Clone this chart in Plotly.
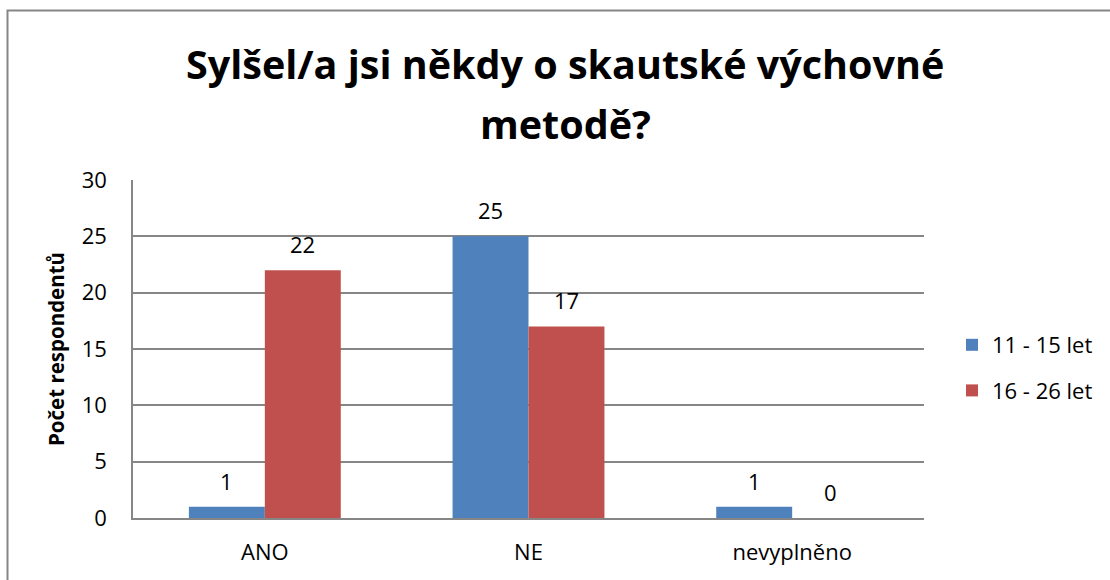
import plotly.graph_objects as go

categories = ["ANO", "NE", "nevyplněno"]
series_names = ["11 - 15 let", "16 - 26 let"]
values_11_15 = [1, 25, 1]
values_16_26 = [22, 17, 0]
colors = ["#4F81BD", "#C0504D"]
title_lines = ["Sylšel/a jsi někdy o skautské výchovné", "metodě?"]
y_title = "Počet respondentů"
y_ticks = [0, 5, 10, 15, 20, 25, 30]

FONT = "'Open Sans', Lato, sans-serif"

L, R, T, B = 133, 186, 180, 62
W, H = 1110, 580
pw, ph = W - L - R, H - T - B
BAR_PX = 76  # pixel width of one bar (for label offset)

fig = go.Figure()
for name, vals, col in zip(series_names, [values_11_15, values_16_26], colors):
    fig.add_trace(go.Bar(
        x=categories, y=vals, name=name, marker=dict(color=col, line=dict(width=0)),
        legendgroup=name,
    ))

annotations = []
for i, vals in enumerate([values_11_15, values_16_26]):
    for cat, v in zip(categories, vals):
        annotations.append(dict(
            x=cat, y=v, xref="x", yref="y", text=str(v), showarrow=False,
            xshift=(i - 0.5) * BAR_PX, yshift=26, yanchor="middle", xanchor="center",
            font=dict(size=22, family=FONT, color="#000000"),
        ))

title_centers_px = [64, 124]
for line, cy in zip(title_lines, title_centers_px):
    annotations.append(dict(
        x=(565 - L) / pw, y=((H - B) - cy) / ph, xref="paper", yref="paper",
        text=line, showarrow=False, xanchor="center", yanchor="middle",
        font=dict(size=39.5, family=FONT, color="#000000", weight="bold"),
    ))

fig.update_layout(
    width=W, height=H,
    margin=dict(l=L, r=R, t=T, b=B),
    paper_bgcolor="white", plot_bgcolor="white",
    barmode="group", bargap=0.424, bargroupgap=0,
    font=dict(family=FONT, color="#000000"),
    annotations=annotations,
    legend=dict(x=(952 - L) / pw, xanchor="left", y=(518 - 324) / ph, yanchor="top",
                font=dict(size=22, family=FONT), tracegroupgap=14,
                itemwidth=30, bgcolor="rgba(0,0,0,0)"),
    xaxis=dict(showline=True, linecolor="#868686", linewidth=1.5, ticks="",
               tickfont=dict(size=22, family=FONT), showgrid=False,
               ticklabelstandoff=14),
    yaxis=dict(range=[0, 30], tickvals=y_ticks, showline=True, linecolor="#868686",
               linewidth=1.5, gridcolor="#868686", gridwidth=1.5, zeroline=False,
               tickfont=dict(size=22, family=FONT), ticks="", ticklen=0,
               ticklabelstandoff=20,
               title=dict(text=y_title, font=dict(size=20.5, family=FONT, weight="bold"),
                          standoff=12)),
)

# outer chart border
fig.add_shape(type="rect", xref="paper", yref="paper",
              x0=(7.5 - L) / pw, x1=(W + 10 - L) / pw,
              y0=-(H + 10 - (H - B)) / ph, y1=((H - B) - 10.5) / ph,
              line=dict(color="#868686", width=2), fillcolor="rgba(0,0,0,0)", layer="below")

fig.write_html("out.html", config={"displayModeBar": False},
               post_script="document.body.style.margin='0';")
